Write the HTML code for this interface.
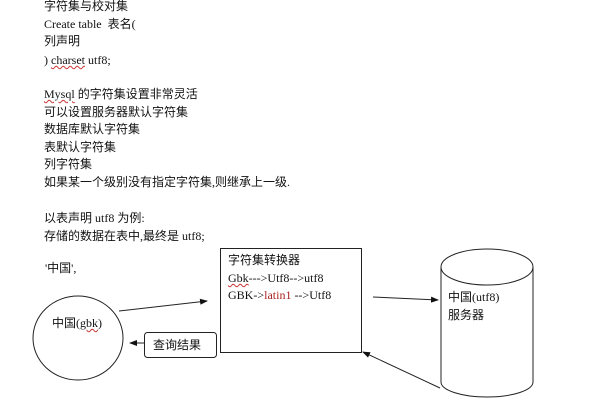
<!DOCTYPE html>
<html><head><meta charset="utf-8"><style>
html,body{margin:0;padding:0;background:#fff;}
body{width:607px;height:401px;position:relative;overflow:hidden;font-family:"Liberation Serif","Noto Sans CJK SC",serif;font-size:12px;color:#111;}
.t{position:absolute;white-space:nowrap;line-height:16px;}
.u{text-decoration:underline wavy #c33;text-decoration-thickness:1px;}
</style></head><body>
<div class="t" style="left:44px;top:-2px">字符集与校对集</div>
<div class="t" style="left:44px;top:16px">Create table&nbsp; 表名(</div>
<div class="t" style="left:44px;top:33px">列声明</div>
<div class="t" style="left:44px;top:52px">) <span class="u">charset</span> utf8;</div>
<div class="t" style="left:44px;top:86px"><span class="u">Mysql</span> 的字符集设置非常灵活</div>
<div class="t" style="left:44px;top:104px">可以设置服务器默认字符集</div>
<div class="t" style="left:44px;top:121px">数据库默认字符集</div>
<div class="t" style="left:44px;top:139px">表默认字符集</div>
<div class="t" style="left:44px;top:156px">列字符集</div>
<div class="t" style="left:44px;top:174px">如果某一个级别没有指定字符集,则继承上一级.</div>
<div class="t" style="left:44px;top:210px">以表声明 utf8 为例:</div>
<div class="t" style="left:44px;top:228px">存储的数据在表中,最终是 utf8;</div>
<div class="t" style="left:45px;top:260px">'中国',</div>
<svg width="607" height="401" style="position:absolute;left:0;top:0">
<defs><marker id="a" markerWidth="8" markerHeight="8" refX="7" refY="4" orient="auto" markerUnits="userSpaceOnUse"><path d="M0,1 L8,4 L0,7z" fill="#111"/></marker></defs>
<g fill="none" stroke="#222" stroke-width="1">
<ellipse cx="78" cy="338" rx="45" ry="42"/>
<rect x="220.5" y="248.5" width="141" height="104"/>
<rect x="144.5" y="332.5" width="72" height="25" rx="3"/>
<path d="M441,267 L441,382 A46,15 0 0 0 533,382 L533,267"/>
<ellipse cx="487" cy="267" rx="46" ry="18"/>
<line x1="119" y1="311" x2="207" y2="301" marker-end="url(#a)"/>
<line x1="373" y1="297" x2="438" y2="300" marker-end="url(#a)"/>
<line x1="440" y1="388" x2="363" y2="352" marker-end="url(#a)"/>
<line x1="144" y1="343" x2="130" y2="343" marker-end="url(#a)"/>
</g></svg>
<div class="t" style="left:228px;top:252px">字符集转换器</div>
<div class="t" style="left:228px;top:270px"><span class="u">Gbk</span>---&gt;Utf8--&gt;utf8</div>
<div class="t" style="left:228px;top:287px">GBK-&gt;<span style="color:#a22">latin1</span> --&gt;Utf8</div>
<div class="t" style="left:52px;top:315px">中国(<span class="u">gbk</span>)</div>
<div class="t" style="left:153px;top:337px">查询结果</div>
<div class="t" style="left:448px;top:289px">中国(utf8)</div>
<div class="t" style="left:448px;top:307px">服务器</div>
</body></html>
